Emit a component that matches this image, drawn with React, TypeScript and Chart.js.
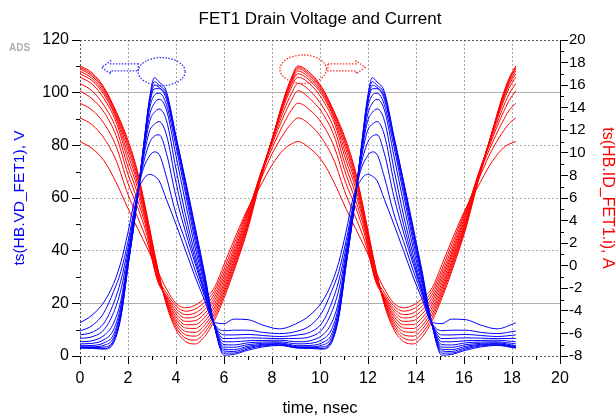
import React, { useEffect, useRef } from "react";
import { Chart, registerables } from "chart.js";

Chart.register(...registerables);

const FONT = '"Liberation Sans", Arial, Helvetica, sans-serif';

const chartTitle = "FET1 Drain Voltage and Current";
const xTitle = "time, nsec";
const leftTitle = "ts(HB.VD_FET1), V";
const rightTitle = "ts(HB.ID_FET1.i), A";
const watermark = "ADS";

const xRange = [0, 20];
const leftRange = [0, 120];
const rightRange = [-8, 20];
const xMinorTicks = [1, 3, 5, 7, 9, 11, 13, 15, 17, 19];
const leftMinorTicks = [10, 30, 50, 70, 90, 110];
const rightMinorTicks = [-7, -5, -3, -1, 1, 3, 5, 7, 9, 11, 13, 15, 17, 19];

// time samples (nsec)
const blueTime = [
  0, 0.5, 1.0, 1.4, 1.7, 2.0, 2.3, 2.6, 2.9, 3.1, 3.3, 3.6, 4.0, 4.4, 4.8, 5.2, 5.55, 6.0, 6.4, 7.0, 7.6, 8.3,
  9.08, 9.58, 10.08, 10.48, 10.78, 11.08, 11.38, 11.68, 11.98, 12.18, 12.38, 12.68, 13.08, 13.48, 13.88, 14.28, 14.63, 15.08, 15.48, 16.08, 16.68, 17.38,
  18.16,
];
const redTime = [
  0, 0.5, 1.0, 1.5, 2.0, 2.4, 2.8, 3.2, 3.6, 4.0, 4.4, 4.8, 5.2, 5.6, 6.0, 6.5, 7.0, 7.5, 8.0, 8.5, 8.8,
  9.08, 9.58, 10.08, 10.58, 11.08, 11.48, 11.88, 12.28, 12.68, 13.08, 13.48, 13.88, 14.28, 14.68, 15.08, 15.58, 16.08, 16.58, 17.08, 17.58, 17.88,
  18.16,
];

// Drain voltage curves (V), one per sweep step
const vd0 = [12.6, 15.5, 20.5, 27.5, 35.5, 47, 60, 66.5, 69, 68.3, 66.5, 59.5, 50, 40, 30, 21, 13, 12.3, 14, 13.8, 11.8, 10.3,
  12.6, 15.5, 20.5, 27.5, 35.5, 47, 60, 66.5, 69, 68.3, 66.5, 59.5, 50, 40, 30, 21, 13, 12.3, 14, 13.8, 11.8, 10.3, 12.6];
const vd1 = [9.5, 11.5, 16.5, 24.5, 32, 43.5, 57.5, 70, 76, 77.5, 76.5, 68, 54, 43.5, 32.5, 22.5, 13, 9.6, 9.8, 9.8, 9.0, 8.5,
  9.5, 11.5, 16.5, 24.5, 32, 43.5, 57.5, 70, 76, 77.5, 76.5, 68, 54, 43.5, 32.5, 22.5, 13, 9.6, 9.8, 9.8, 9.0, 8.5, 9.5];
const vd2 = [8.0, 9.0, 12.5, 20, 28.5, 41, 56.5, 71.5, 81, 83.5, 84, 77, 60.5, 47, 35, 23.5, 13, 8.0, 8.0, 8.2, 7.8, 7.4,
  8.0, 9.0, 12.5, 20, 28.5, 41, 56.5, 71.5, 81, 83.5, 84, 77, 60.5, 47, 35, 23.5, 13, 8.0, 8.0, 8.2, 7.8, 7.4, 8.0];
const vd3 = [6.7, 7.3, 10, 16.5, 25, 39, 56, 73, 85.5, 88, 89, 84, 66, 50, 36.5, 24, 13, 6.6, 6.7, 6.9, 6.8, 6.6,
  6.7, 7.3, 10, 16.5, 25, 39, 56, 73, 85.5, 88, 89, 84, 66, 50, 36.5, 24, 13, 6.6, 6.7, 6.9, 6.8, 6.6, 6.7];
const vd4 = [5.4, 5.8, 7.8, 12.5, 21, 37.5, 55, 74, 89, 92.5, 93.8, 89.5, 71, 53.5, 38.5, 25, 13, 5.4, 5.4, 5.8, 5.9, 6.0,
  5.4, 5.8, 7.8, 12.5, 21, 37.5, 55, 74, 89, 92.5, 93.8, 89.5, 71, 53.5, 38.5, 25, 13, 5.4, 5.4, 5.8, 5.9, 6.0, 5.4];
const vd5 = [4.6, 4.8, 6.2, 10, 19, 36.5, 54.5, 74.5, 91.5, 96, 97.5, 93.5, 76, 58, 41, 26.5, 13, 4.3, 4.2, 5.0, 5.3, 5.4,
  4.6, 4.8, 6.2, 10, 19, 36.5, 54.5, 74.5, 91.5, 96, 97.5, 93.5, 76, 58, 41, 26.5, 13, 4.3, 4.2, 5.0, 5.3, 5.4, 4.6];
const vd6 = [3.9, 4.0, 5.0, 8.2, 17.5, 35.5, 54, 75, 94, 99, 99.8, 95.5, 79.5, 61.5, 43.5, 27.5, 13, 3.4, 3.3, 4.3, 4.8, 5.0,
  3.9, 4.0, 5.0, 8.2, 17.5, 35.5, 54, 75, 94, 99, 99.8, 95.5, 79.5, 61.5, 43.5, 27.5, 13, 3.4, 3.3, 4.3, 4.8, 5.0, 3.9];
const vd7 = [3.5, 3.5, 4.1, 7, 16.5, 35, 54, 75.5, 95.5, 101.5, 101.5, 97.5, 81.5, 63.5, 45.5, 28.5, 13, 2.6, 2.4, 3.7, 4.4, 4.7,
  3.5, 3.5, 4.1, 7, 16.5, 35, 54, 75.5, 95.5, 101.5, 101.5, 97.5, 81.5, 63.5, 45.5, 28.5, 13, 2.6, 2.4, 3.7, 4.4, 4.7, 3.5];
const vd8 = [3.3, 3.2, 3.4, 6, 15.5, 34.5, 53.5, 76, 96.5, 102.8, 102, 98.5, 82.5, 65, 47, 29.5, 13, 1.9, 1.7, 3.2, 4.1, 4.5,
  3.3, 3.2, 3.4, 6, 15.5, 34.5, 53.5, 76, 96.5, 102.8, 102, 98.5, 82.5, 65, 47, 29.5, 13, 1.9, 1.7, 3.2, 4.1, 4.5, 3.3];
const vd9 = [3.1, 3.0, 2.9, 5.5, 15, 34, 53.5, 76, 97.5, 104.2, 102.8, 99.5, 83, 66, 48, 30, 13.5, 1.1, 1.1, 2.7, 3.8, 4.2,
  3.1, 3.0, 2.9, 5.5, 15, 34, 53.5, 76, 97.5, 104.2, 102.8, 99.5, 83, 66, 48, 30, 13.5, 1.1, 1.1, 2.7, 3.8, 4.2, 3.1];
const vd10 = [3.0, 2.9, 2.6, 5, 14.5, 34, 53, 76, 98, 105.7, 104, 100.5, 83.5, 66.5, 49, 31, 13.5, 0.3, 0.6, 2.2, 3.4, 4.0,
  3.0, 2.9, 2.6, 5, 14.5, 34, 53, 76, 98, 105.7, 104, 100.5, 83.5, 66.5, 49, 31, 13.5, 0.3, 0.6, 2.2, 3.4, 4.0, 3.0];

// Drain current curves (A), one per sweep step
const id0 = [11.0, 10.4, 9.3, 7.4, 5.07, 3.3, 1.57, -0.3, -2.05, -3.33, -3.73, -3.5, -2.87, -1.93, 0.1, 2.7, 5.1, 7.0, 8.92, 10.32, 10.78,
  11.0, 10.4, 9.3, 7.4, 5.07, 3.3, 1.57, -0.3, -2.05, -3.33, -3.73, -3.5, -2.87, -1.93, 0.1, 2.7, 5.1, 7.0, 8.92, 10.32, 10.78, 11.0];
const id1 = [13.1, 12.5, 11.3, 9.35, 6.3, 4.3, 2.1, -0.88, -2.4, -3.56, -4.03, -3.84, -3.21, -2.22, -0.3, 2.35, 5.0, 7.5, 9.9, 11.73, 12.59,
  13.1, 12.5, 11.3, 9.35, 6.3, 4.3, 2.1, -0.88, -2.4, -3.56, -4.03, -3.84, -3.21, -2.22, -0.3, 2.35, 5.0, 7.5, 9.9, 11.73, 12.59, 13.1];
const id2 = [14.4, 13.8, 12.6, 10.6, 7.3, 5.2, 2.6, -1.12, -2.63, -3.8, -4.33, -4.19, -3.55, -2.51, -0.65, 2.0, 4.85, 7.8, 10.4, 12.64, 13.76,
  14.4, 13.8, 12.6, 10.6, 7.3, 5.2, 2.6, -1.12, -2.63, -3.8, -4.33, -4.19, -3.55, -2.51, -0.65, 2.0, 4.85, 7.8, 10.4, 12.64, 13.76, 14.4];
const id3 = [15.5, 14.8, 13.6, 11.55, 8.1, 5.8, 3.0, -1.12, -2.75, -4.03, -4.63, -4.53, -3.88, -2.81, -0.95, 1.7, 4.65, 8.0, 10.75, 13.32, 14.63,
  15.5, 14.8, 13.6, 11.55, 8.1, 5.8, 3.0, -1.12, -2.75, -4.03, -4.63, -4.53, -3.88, -2.81, -0.95, 1.7, 4.65, 8.0, 10.75, 13.32, 14.63, 15.5];
const id4 = [16.15, 15.5, 14.2, 12.2, 8.75, 6.4, 3.3, -0.88, -2.87, -4.27, -4.93, -4.87, -4.22, -3.1, -1.25, 1.45, 4.45, 8.0, 10.95, 13.78, 15.22,
  16.15, 15.5, 14.2, 12.2, 8.75, 6.4, 3.3, -0.88, -2.87, -4.27, -4.93, -4.87, -4.22, -3.1, -1.25, 1.45, 4.45, 8.0, 10.95, 13.78, 15.22, 16.15];
const id5 = [16.7, 16.1, 14.8, 12.75, 9.35, 6.9, 3.55, -0.65, -2.98, -4.5, -5.23, -5.22, -4.56, -3.39, -1.55, 1.2, 4.2, 7.9, 11.1, 14.19, 15.74,
  16.7, 16.1, 14.8, 12.75, 9.35, 6.9, 3.55, -0.65, -2.98, -4.5, -5.23, -5.22, -4.56, -3.39, -1.55, 1.2, 4.2, 7.9, 11.1, 14.19, 15.74, 16.7];
const id6 = [17.0, 16.4, 15.15, 13.05, 9.85, 7.3, 3.8, -0.42, -3.1, -4.73, -5.52, -5.56, -4.9, -3.68, -1.84, 0.94, 4.0, 7.8, 11.15, 14.42, 16.04,
  17.0, 16.4, 15.15, 13.05, 9.85, 7.3, 3.8, -0.42, -3.1, -4.73, -5.52, -5.56, -4.9, -3.68, -1.84, 0.94, 4.0, 7.8, 11.15, 14.42, 16.04, 17.0];
const id7 = [17.25, 16.6, 15.35, 13.25, 10.3, 7.6, 4.0, -0.23, -3.17, -4.97, -5.82, -5.9, -5.24, -3.97, -2.1, 0.72, 3.85, 7.7, 11.2, 14.55, 16.21,
  17.25, 16.6, 15.35, 13.25, 10.3, 7.6, 4.0, -0.23, -3.17, -4.97, -5.82, -5.9, -5.24, -3.97, -2.1, 0.72, 3.85, 7.7, 11.2, 14.55, 16.21, 17.25];
const id8 = [17.45, 16.8, 15.55, 13.45, 10.65, 7.9, 4.15, -0.07, -3.26, -5.2, -6.12, -6.24, -5.57, -4.27, -2.36, 0.49, 3.7, 7.6, 11.2, 14.69, 16.39,
  17.45, 16.8, 15.55, 13.45, 10.65, 7.9, 4.15, -0.07, -3.26, -5.2, -6.12, -6.24, -5.57, -4.27, -2.36, 0.49, 3.7, 7.6, 11.2, 14.69, 16.39, 17.45];
const id9 = [17.6, 16.95, 15.7, 13.6, 10.9, 8.15, 4.25, 0.05, -3.36, -5.44, -6.42, -6.59, -5.91, -4.56, -2.61, 0.27, 3.5, 7.5, 11.17, 14.78, 16.5,
  17.6, 16.95, 15.7, 13.6, 10.9, 8.15, 4.25, 0.05, -3.36, -5.44, -6.42, -6.59, -5.91, -4.56, -2.61, 0.27, 3.5, 7.5, 11.17, 14.78, 16.5, 17.6];
const id10 = [17.7, 17.1, 15.8, 13.7, 11.13, 8.33, 4.37, 0.17, -3.45, -5.67, -6.72, -6.93, -6.25, -4.85, -2.87, 0.05, 3.32, 7.4, 11.13, 14.87, 16.62,
  17.7, 17.1, 15.8, 13.7, 11.13, 8.33, 4.37, 0.17, -3.45, -5.67, -6.72, -6.93, -6.25, -4.85, -2.87, 0.05, 3.32, 7.4, 11.13, 14.87, 16.62, 17.7];

const voltageCurves = [vd0, vd1, vd2, vd3, vd4, vd5, vd6, vd7, vd8, vd9, vd10];
const currentCurves = [id0, id1, id2, id3, id4, id5, id6, id7, id8, id9, id10];

// dotted annotation marks, in data units (time, volts)
const blueEllipse = { t: 3.4, v: 108.0, rt: 0.98, rv: 5.3 };
const redEllipse = { t: 9.3, v: 108.9, rt: 0.97, rv: 5.4 };
const blueArrow = { from: 2.43, to: 0.9, v: 109.6 };
const redArrow = { from: 10.33, to: 11.88, v: 109.6 };

const BLUE = "#0000ff";
const RED = "#ff0000";

function drawArrow(ctx: any, sx: any, sy: any, a: any, color: string) {
  const dir = a.to > a.from ? 1 : -1;
  const y0 = sy.getPixelForValue(a.v);
  const xs = sx.getPixelForValue(a.from);
  const xt = sx.getPixelForValue(a.to);
  const xn = xt - dir * 9;
  const hs = 3.5;
  const hh = 6.5;
  ctx.strokeStyle = color;
  ctx.beginPath();
  ctx.moveTo(xs, y0 - hs);
  ctx.lineTo(xn, y0 - hs);
  ctx.lineTo(xn, y0 - hh);
  ctx.lineTo(xt, y0);
  ctx.lineTo(xn, y0 + hh);
  ctx.lineTo(xn, y0 + hs);
  ctx.lineTo(xs, y0 + hs);
  ctx.closePath();
  ctx.stroke();
}

function drawEllipse(ctx: any, sx: any, sy: any, e: any, color: string) {
  const cx = sx.getPixelForValue(e.t);
  const cy = sy.getPixelForValue(e.v);
  const rx = Math.abs(sx.getPixelForValue(e.t + e.rt) - cx);
  const ry = Math.abs(sy.getPixelForValue(e.v + e.rv) - cy);
  ctx.strokeStyle = color;
  ctx.beginPath();
  ctx.ellipse(cx, cy, rx, ry, 0, 0, Math.PI * 2);
  ctx.stroke();
}

const decorPlugin = {
  id: "decor",
  afterDraw(chart: any) {
    const { ctx, chartArea: a, scales } = chart;
    const sx = scales.x;
    const sl = scales.y;
    const sr = scales.y1;
    ctx.save();
    ctx.setLineDash([]);
    ctx.strokeStyle = "#000";
    ctx.lineWidth = 1;
    ctx.beginPath();
    for (const v of xMinorTicks) {
      const p = Math.round(sx.getPixelForValue(v)) + 0.5;
      ctx.moveTo(p, a.bottom);
      ctx.lineTo(p, a.bottom + 4);
    }
    for (const v of leftMinorTicks) {
      const p = Math.round(sl.getPixelForValue(v)) + 0.5;
      ctx.moveTo(a.left - 4, p);
      ctx.lineTo(a.left, p);
    }
    for (const v of rightMinorTicks) {
      const p = Math.round(sr.getPixelForValue(v)) + 0.5;
      ctx.moveTo(a.right, p);
      ctx.lineTo(a.right + 4, p);
    }
    ctx.stroke();

    ctx.fillStyle = "#000";
    ctx.font = `17px ${FONT}`;
    ctx.textAlign = "center";
    ctx.textBaseline = "middle";
    ctx.fillText(chartTitle, (a.left + a.right) / 2, 19);

    ctx.fillStyle = "#b0b0b0";
    ctx.font = `bold 10px ${FONT}`;
    ctx.textAlign = "left";
    ctx.fillText(watermark, 9, 48);

    ctx.lineWidth = 1.3;
    ctx.setLineDash([1.5, 1.5]);
    drawEllipse(ctx, sx, sl, blueEllipse, "#3030ff");
    drawArrow(ctx, sx, sl, blueArrow, "#3030ff");
    drawEllipse(ctx, sx, sl, redEllipse, "#ff3030");
    drawArrow(ctx, sx, sl, redArrow, "#ff3030");
    ctx.restore();
  },
};

export default function App() {
  const ref = useRef<HTMLCanvasElement | null>(null);

  useEffect(() => {
    if (!ref.current) return;
    const blueSets = voltageCurves.map((vals, i) => ({
      label: `VD ${i + 1}`,
      data: blueTime.map((t, j) => ({ x: t, y: vals[j] })),
      yAxisID: "y",
      borderColor: BLUE,
      borderWidth: 1,
      pointRadius: 0,
      fill: false,
      cubicInterpolationMode: "monotone" as const,
    }));
    const redSets = currentCurves.map((vals, i) => ({
      label: `ID ${i + 1}`,
      data: redTime.map((t, j) => ({ x: t, y: vals[j] })),
      yAxisID: "y1",
      borderColor: RED,
      borderWidth: 1,
      pointRadius: 0,
      fill: false,
      cubicInterpolationMode: "monotone" as const,
    }));

    const chart = new Chart(ref.current, {
      type: "line",
      data: { datasets: [...blueSets, ...redSets] as any },
      options: {
        animation: false,
        responsive: false,
        devicePixelRatio: 1,
        layout: { padding: { top: 40, left: 0, right: 0, bottom: 0 } },
        plugins: {
          legend: { display: false },
          tooltip: { enabled: false },
          title: { display: false },
        },
        scales: {
          x: {
            type: "linear",
            min: xRange[0],
            max: xRange[1],
            afterFit: (s: any) => {
              s.height = 63;
            },
            ticks: {
              stepSize: 2,
              autoSkip: false,
              maxRotation: 0,
              color: "#000",
              padding: 5,
              font: { family: FONT, size: 16 },
            },
            grid: {
              color: (c: any) => {
                const v = c.tick ? c.tick.value : -1;
                if (v === 20) return "#000";
                if (v === 0) return "#555";
                return "#a8a8a8";
              },
              lineWidth: 1,
              tickLength: 8,
              tickColor: "#000",
              tickWidth: 1,
              tickBorderDash: [],
            },
            border: {
              display: false,
              dash: (c: any) => (c.tick && c.tick.value === 20 ? [] : [2, 2]),
            },
            title: {
              display: true,
              text: xTitle,
              color: "#000",
              font: { family: FONT, size: 16.5, lineHeight: 1.2 },
              padding: { top: 0, bottom: 1 },
            },
          },
          y: {
            type: "linear",
            position: "left",
            min: leftRange[0],
            max: leftRange[1],
            afterFit: (s: any) => {
              s.width = 80;
            },
            ticks: {
              stepSize: 20,
              color: "#000",
              padding: 3,
              font: { family: FONT, size: 16 },
            },
            grid: {
              color: (c: any) => {
                const v = c.tick ? c.tick.value : -1;
                if (v === 0 || v === 120) return "#555";
                return "#b0b0b0";
              },
              lineWidth: 1,
              tickLength: 8,
              tickColor: "#000",
              tickWidth: 1,
              tickBorderDash: [],
            },
            border: {
              display: false,
              dash: (c: any) => {
                const v = c.tick ? c.tick.value : -1;
                return v === 20 || v === 100 ? [] : [2, 2];
              },
            },
            title: {
              display: true,
              text: leftTitle,
              color: BLUE,
              font: { family: FONT, size: 15.5, lineHeight: 1 },
              padding: { top: 11.5, bottom: 0 },
            },
          },
          y1: {
            type: "linear",
            position: "right",
            min: rightRange[0],
            max: rightRange[1],
            afterFit: (s: any) => {
              s.width = 55;
            },
            ticks: {
              stepSize: 2,
              color: "#000",
              padding: 1,
              font: { family: FONT, size: 15 },
            },
            grid: {
              drawOnChartArea: false,
              tickLength: 8,
              tickColor: "#000",
              tickWidth: 1,
              tickBorderDash: [],
            },
            border: { display: false },
            title: {
              display: true,
              text: rightTitle,
              color: RED,
              font: { family: FONT, size: 16, lineHeight: 1 },
              padding: { top: 0, bottom: 0 },
            },
          },
        },
      },
      plugins: [decorPlugin],
    } as any);

    return () => chart.destroy();
  }, []);

  return (
    <div style={{ position: "absolute", left: 0, top: 0, width: 615, height: 419, background: "#fff" }}>
      <canvas ref={ref} width={615} height={419} style={{ display: "block" }} />
    </div>
  );
}
